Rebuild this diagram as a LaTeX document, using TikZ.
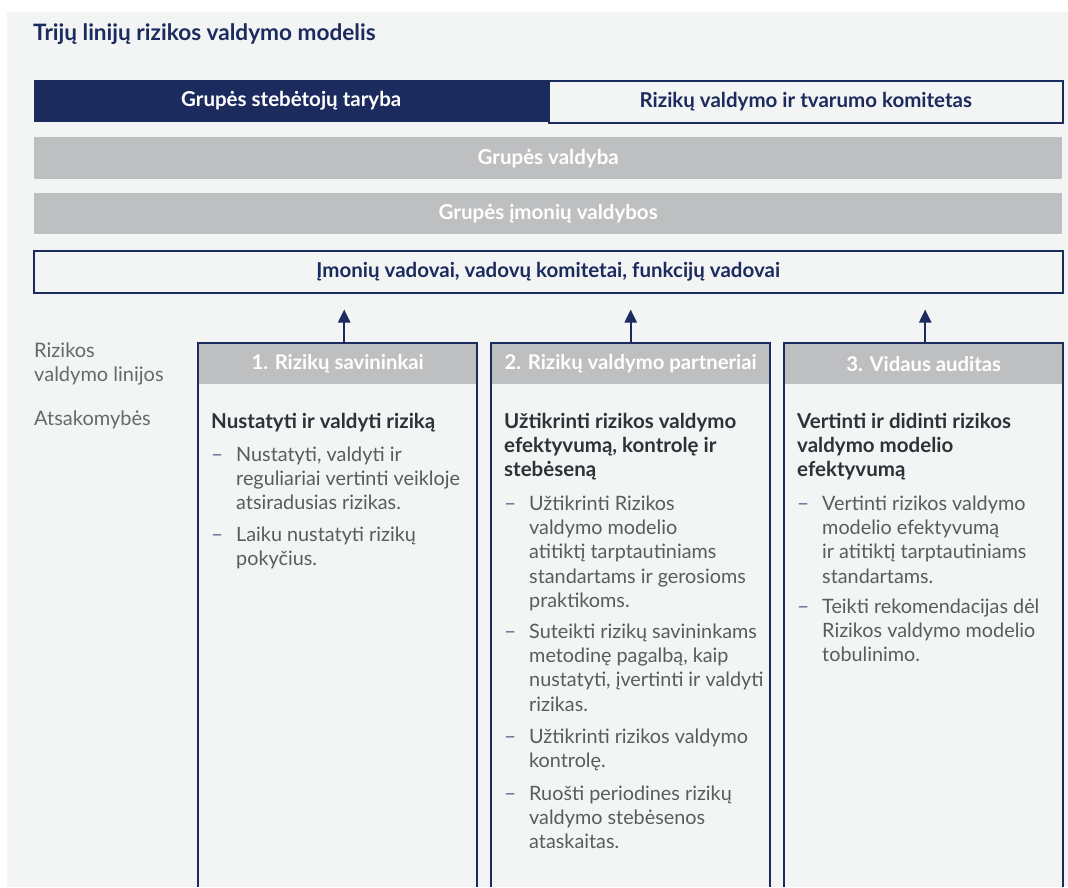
\documentclass[tikz,border=0pt]{standalone}
\usepackage{fontspec}
\setmainfont{Lato}
\usetikzlibrary{arrows.meta}
\definecolor{navy}{HTML}{1B2B5E}
\definecolor{bg}{HTML}{F3F4F4}
\definecolor{barg}{HTML}{BEBFC1}
\definecolor{bodyc}{HTML}{5A5B5E}
\definecolor{headc}{HTML}{2F3038}
\definecolor{labc}{HTML}{67686B}
\definecolor{dashc}{HTML}{5E6A8E}
\newcommand\ml[1]{\begin{tabular}[t]{@{}l@{}}#1\end{tabular}}
\tikzset{
  bar/.style={anchor=north west, inner sep=0pt, minimum height=42pt, font=\fontsize{20.5}{24}\selectfont\bfseries},
  colhead/.style={anchor=north west, inner sep=0pt, minimum width=279pt, minimum height=41pt, fill=barg, text=white, font=\fontsize{20.3}{24}\selectfont\bfseries},
  colline/.style={draw=navy, line width=2pt},
  hd/.style={anchor=base west, inner sep=0pt, text=headc, font=\fontsize{20.5}{24.4}\selectfont\bfseries},
  bodytxt/.style={anchor=base west, inner sep=0pt, text=bodyc, font=\fontsize{19.8}{24.4}\selectfont},
  dashmark/.style={anchor=base west, inner sep=0pt, text=dashc, font=\fontsize{21}{24.4}\selectfont},
  lab/.style={anchor=base west, inner sep=0pt, text=labc, font=\fontsize{20}{24.4}\selectfont},
  arr/.style={draw=navy, line width=2.2pt, -{Triangle[width=12pt,length=13pt]}, shorten >=16pt}
}
\begin{document}
\begin{tikzpicture}[x=1pt,y=-1pt]
\useasboundingbox (0,0) rectangle (1068,887);
\fill[white] (0,0) rectangle (1068,887);
\fill[bg] (7,12) rectangle (1068,887);

\node[anchor=base west, inner sep=0pt, text=navy, font=\fontsize{22.6}{24}\selectfont\bfseries] (title) at (33,40) {Trijų linijų rizikos valdymo modelis};

\node[bar, fill=navy, text=white, minimum width=514pt] (sup) at (34,80) {Grupės stebėtojų taryba};
\node[bar, draw=navy, line width=1.5pt, text=navy, minimum width=514pt] (com) at (548,80) {Rizikų valdymo ir tvarumo komitetas};
\node[bar, fill=barg, text=white, minimum width=1028pt] (gv) at (34,137) {Grupės valdyba};
\node[bar, fill=barg, text=white, minimum width=1028pt, minimum height=41pt] (giv) at (34,193) {Grupės įmonių valdybos};
\node[bar, draw=navy, line width=1.5pt, text=navy, minimum width=1029pt] (lead) at (33,250) {Įmonių vadovai, vadovų komitetai, funkcijų vadovai};

% left labels
\node[lab] (l1) at (34,357) {\ml{Rizikos\\valdymo linijos}};
\node[lab] (l2) at (34,425) {Atsakomybės};

% column headers
\node[colhead] (h1) at (198,343) {1. Rizikų savininkai};
\node[colhead] (h2) at (491,343) {2. Rizikų valdymo partneriai};
\node[colhead] (h3) at (784,343) {3. Vidaus auditas};

% column outlines
\draw[colline] (h1.south west |- 0,887) -- (h1.north west) -- (h1.north east) -- (h1.south east |- 0,887);
\draw[colline] (h2.south west |- 0,887) -- (h2.north west) -- (h2.north east) -- (h2.south east |- 0,887);
\draw[colline] (h3.south west |- 0,887) -- (h3.north west) -- (h3.north east) -- (h3.south east |- 0,887);

% arrows
\draw[arr] ([xshift=6.5pt]h1.north) -- ([xshift=6.5pt]h1.north |- lead.south);
\draw[arr] (h2.north) -- (h2.north |- lead.south);
\draw[arr] ([xshift=1.5pt]h3.north) -- ([xshift=1.5pt]h3.north |- lead.south);

% column 1
\node[hd] (c1h) at (211,428) {Nustatyti ir valdyti riziką};
\node[dashmark] (c1d1) at (211,461) {–};
\node[bodytxt] (c1b1) at (236,461) {\ml{Nustatyti, valdyti ir\\reguliariai vertinti veikloje\\atsiradusias rizikas.}};
\node[dashmark] (c1d2) at (211,541) {–};
\node[bodytxt] (c1b2) at (236,541) {\ml{Laiku nustatyti rizikų\\pokyčius.}};

% column 2
\node[hd] (c2h) at (504,428) {\ml{Užtikrinti rizikos valdymo\\efektyvumą, kontrolę ir\\stebėseną}};
\node[dashmark] (c2d1) at (504,510) {–};
\node[bodytxt] (c2b1) at (529,510) {\ml{Užtikrinti Rizikos\\valdymo modelio\\atitiktį tarptautiniams\\standartams ir gerosioms\\praktikoms.}};
\node[dashmark] (c2d2) at (504,638) {–};
\node[bodytxt] (c2b2) at (529,638) {\ml{Suteikti rizikų savininkams\\metodinę pagalbą, kaip\\nustatyti, įvertinti ir valdyti\\rizikas.}};
\node[dashmark] (c2d3) at (504,743) {–};
\node[bodytxt] (c2b3) at (529,743) {\ml{Užtikrinti rizikos valdymo\\kontrolę.}};
\node[dashmark] (c2d4) at (504,800) {–};
\node[bodytxt] (c2b4) at (529,800) {\ml{Ruošti periodines rizikų\\valdymo stebėsenos\\ataskaitas.}};

% column 3
\node[hd] (c3h) at (797,428) {\ml{Vertinti ir didinti rizikos\\valdymo modelio\\efektyvumą}};
\node[dashmark] (c3d1) at (797,510) {–};
\node[bodytxt] (c3b1) at (822,510) {\ml{Vertinti rizikos valdymo\\modelio efektyvumą\\ir atitiktį tarptautiniams\\standartams.}};
\node[dashmark] (c3d2) at (797,613) {–};
\node[bodytxt] (c3b2) at (822,613) {\ml{Teikti rekomendacijas dėl\\Rizikos valdymo modelio\\tobulinimo.}};
\end{tikzpicture}
\end{document}
